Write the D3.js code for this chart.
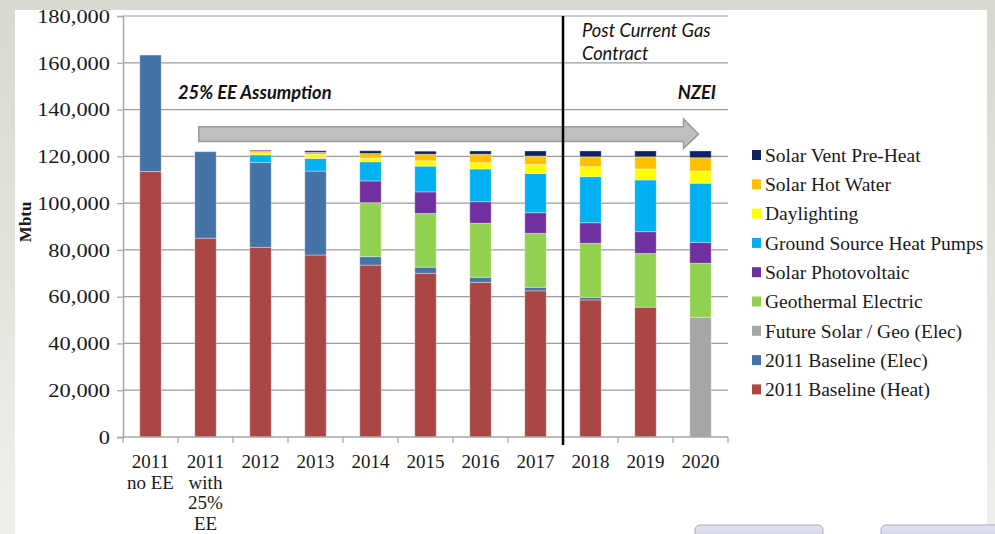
<!DOCTYPE html>
<html>
<head>
<meta charset="utf-8">
<script src="https://cdn.jsdelivr.net/npm/d3@7"></script>
<style>
  html, body { margin: 0; padding: 0; background: #fff; }
  svg { display: block; }
</style>
</head>
<body>
<svg id="chart" width="995" height="534"></svg>
<script>
// categories, multi-line labels split on "|"
const categories = ["2011|no EE", "2011|with|25%|EE", "2012", "2013", "2014", "2015", "2016", "2017", "2018", "2019", "2020"];

// Mbtu values
const baselineHeat = [113500, 85000, 81100, 77800, 73500, 70000, 66100, 62500, 58600, 55500, 0];
const baselineElec = [49800, 37000, 36300, 35900, 3600, 2600, 2200, 1500, 1100, 0, 0];
const futureSolarGeo = [0, 0, 0, 0, 0, 0, 0, 0, 0, 0, 51200];
const geothermal = [0, 0, 0, 0, 23100, 23000, 23100, 23100, 23100, 23000, 23100];
const solarPV = [0, 0, 0, 0, 9300, 9200, 9200, 8800, 8800, 9300, 8900];
const groundSource = [0, 0, 3200, 5400, 8200, 11000, 14000, 16800, 19700, 22100, 25300];
const daylighting = [0, 0, 900, 1700, 1500, 2300, 2700, 3900, 4300, 4700, 5200];
const solarHotWater = [0, 0, 900, 900, 2000, 2800, 3600, 3500, 4200, 5200, 5700];
const solarVent = [0, 0, 300, 700, 1200, 1300, 1400, 2200, 2500, 2500, 2900];

// stack order, bottom to top
const seriesNames = [
  "2011 Baseline (Heat)", "2011 Baseline (Elec)", "Future Solar / Geo (Elec)",
  "Geothermal Electric", "Solar Photovoltaic", "Ground Source Heat Pumps",
  "Daylighting", "Solar Hot Water", "Solar Vent Pre-Heat"
];
const seriesValues = [
  baselineHeat, baselineElec, futureSolarGeo, geothermal, solarPV,
  groundSource, daylighting, solarHotWater, solarVent
];

const yTicks = [0, 20000, 40000, 60000, 80000, 100000, 120000, 140000, 160000, 180000];

const color = d3.scaleOrdinal()
  .domain(seriesNames)
  .range(["#aa4643", "#4572a7", "#a6a6a6", "#92d050", "#7030a0", "#00b0f0", "#ffff00", "#ffc000", "#0f2360"]);

const svg = d3.select("#chart");
const width = 995;
const height = 534;
const margin = { top: 16, right: 267, bottom: 97, left: 123 };
const serif = "'Liberation Serif', 'Times New Roman', serif";
const sans = "Lato, 'Open Sans', sans-serif";

// slide background
const defs = svg.append("defs");
const frame = defs.append("linearGradient")
  .attr("id", "frame").attr("x1", 0).attr("y1", 0).attr("x2", 0).attr("y2", 1);
frame.append("stop").attr("offset", "0%").attr("stop-color", "#d6d9cf");
frame.append("stop").attr("offset", "100%").attr("stop-color", "#eef0ea");
svg.append("rect").attr("width", width).attr("height", height).attr("fill", "url(#frame)");
svg.append("rect").attr("x", 15).attr("y", 10).attr("width", 972).attr("height", height - 10).attr("fill", "#fff");

const btn = defs.append("linearGradient")
  .attr("id", "btn").attr("x1", 0).attr("y1", 0).attr("x2", 0).attr("y2", 1);
btn.append("stop").attr("offset", "0%").attr("stop-color", "#e4e4f0");
btn.append("stop").attr("offset", "100%").attr("stop-color", "#c4c6dc");
[[695, 128], [881, 130]].forEach(([bx, bw]) => {
  svg.append("rect")
    .attr("x", bx).attr("y", 525).attr("width", bw).attr("height", 20)
    .attr("rx", 5)
    .attr("fill", "url(#btn)")
    .attr("stroke", "#a9abc6");
});

const rows = categories.map((c, i) => {
  const row = { cat: c };
  seriesNames.forEach((s, j) => (row[s] = seriesValues[j][i]));
  return row;
});
const stacked = d3.stack().keys(seriesNames)(rows);

const x = d3.scaleBand()
  .domain(categories)
  .range([margin.left, width - margin.right])
  .padding(0);

const y = d3.scaleLinear()
  .domain([0, 180000])
  .range([height - margin.bottom, margin.top]);

const barW = x.bandwidth() * 0.39;
const barOff = (x.bandwidth() - barW) / 2;

// gridlines
svg.append("g")
  .selectAll("line")
  .data(yTicks.filter((d) => d > 0))
  .join("line")
  .attr("x1", margin.left)
  .attr("x2", width - margin.right)
  .attr("y1", (d) => y(d))
  .attr("y2", (d) => y(d))
  .attr("stroke", "#9b9b9b")
  .attr("stroke-width", 1.2);

// bars
svg.append("g")
  .selectAll("g")
  .data(stacked)
  .join("g")
  .attr("fill", (d) => color(d.key))
  .selectAll("rect")
  .data((d) => d.filter((p) => p[1] - p[0] > 0))
  .join("rect")
  .attr("x", (d) => x(d.data.cat) + barOff)
  .attr("y", (d) => y(d[1]))
  .attr("width", barW)
  .attr("height", (d) => y(d[0]) - y(d[1]))
  .attr("stroke", "rgba(255,255,255,0.35)")
  .attr("stroke-width", 1);

// y axis (labels drawn by hand so they can be stretched like the slide)
const yAxis = svg.append("g")
  .attr("transform", `translate(${margin.left},0)`)
  .call(d3.axisLeft(y).tickValues(yTicks).tickFormat("").tickSize(6));
yAxis.select(".domain").attr("stroke", "#a6a6a6").attr("stroke-width", 1.5);
yAxis.selectAll(".tick line").attr("stroke", "#a6a6a6").attr("stroke-width", 1.2);

svg.append("g")
  .selectAll("text")
  .data(yTicks)
  .join("text")
  .attr("transform", (d) => `translate(110,${y(d)}) scale(1.15,1)`)
  .attr("dy", "0.35em")
  .attr("text-anchor", "end")
  .attr("font-family", serif)
  .attr("font-size", 19.5)
  .attr("fill", "#1a1a1a")
  .text(d3.format(","));

// x axis
const xAxisY = height - margin.bottom;
svg.append("line")
  .attr("x1", margin.left).attr("x2", width - margin.right)
  .attr("y1", xAxisY).attr("y2", xAxisY)
  .attr("stroke", "#a6a6a6").attr("stroke-width", 1.5);
svg.append("g")
  .selectAll("line")
  .data(categories.concat([null]))
  .join("line")
  .attr("x1", (d, i) => margin.left + i * x.step())
  .attr("x2", (d, i) => margin.left + i * x.step())
  .attr("y1", xAxisY)
  .attr("y2", xAxisY + 6)
  .attr("stroke", "#a6a6a6")
  .attr("stroke-width", 1.2);

svg.append("g")
  .selectAll("text")
  .data(categories)
  .join("text")
  .attr("x", (d) => x(d) + x.bandwidth() / 2)
  .attr("y", xAxisY + 31)
  .attr("text-anchor", "middle")
  .attr("font-family", serif)
  .attr("font-size", 19)
  .attr("fill", "#1a1a1a")
  .selectAll("tspan")
  .data((d) => d.split("|"))
  .join("tspan")
  .attr("x", function () { return this.parentNode.getAttribute("x"); })
  .attr("dy", (d, i) => (i === 0 ? 0 : 20.5))
  .text((d) => d);

// axis title
svg.append("text")
  .attr("transform", `translate(31,${y(92000)}) rotate(-90)`)
  .attr("text-anchor", "middle")
  .attr("font-family", serif)
  .attr("font-size", 17)
  .attr("font-weight", "bold")
  .attr("fill", "#1a1a1a")
  .text("Mbtu");

// big grey arrow over the 25% EE years
const ax0 = x(categories[1]) + barOff + 4;
const ax1 = x(categories[10]) + x.bandwidth() / 2 - 2;
const head = 15;
const arrow = [
  [ax0, y(132700)], [ax1 - head, y(132700)], [ax1 - head, y(136000)],
  [ax1, y(129500)], [ax1 - head, y(123400)], [ax1 - head, y(126300)],
  [ax0, y(126300)]
];
svg.append("path")
  .attr("d", d3.line()(arrow) + "Z")
  .attr("fill", "#bfbfbf")
  .attr("stroke", "#9a9a9a")
  .attr("stroke-width", 1.5);

// gas contract divider
const divX = x(categories[8]);
svg.append("line")
  .attr("x1", divX).attr("x2", divX)
  .attr("y1", y(180000)).attr("y2", xAxisY + 8)
  .attr("stroke", "#000")
  .attr("stroke-width", 2.5);

// annotations
svg.append("text")
  .attr("x", 178).attr("y", y(144500))
  .attr("font-family", sans).attr("font-size", 18.3)
  .attr("font-weight", "bold").attr("font-style", "italic")
  .attr("fill", "#111")
  .text("25% EE Assumption");

svg.append("text")
  .attr("x", 716).attr("y", y(144500))
  .attr("text-anchor", "end")
  .attr("font-family", sans).attr("font-size", 18.3)
  .attr("font-weight", "bold").attr("font-style", "italic")
  .attr("fill", "#111")
  .text("NZEI");

svg.append("text")
  .attr("x", divX + 19).attr("y", 37)
  .attr("font-family", sans).attr("font-size", 18.3)
  .attr("font-style", "italic")
  .attr("fill", "#111")
  .selectAll("tspan")
  .data(["Post Current Gas", "Contract"])
  .join("tspan")
  .attr("x", divX + 19)
  .attr("dy", (d, i) => (i === 0 ? 0 : 23))
  .text((d) => d);

// legend, top entry first
const legend = svg.append("g")
  .selectAll("g")
  .data(seriesNames.slice().reverse())
  .join("g")
  .attr("transform", (d, i) => `translate(752,${155 + i * 29.3})`);
legend.append("rect")
  .attr("x", 0).attr("y", -5)
  .attr("width", 9).attr("height", 10)
  .attr("fill", (d) => color(d));
legend.append("text")
  .attr("x", 13).attr("dy", "0.35em")
  .attr("font-family", serif)
  .attr("font-size", 19.5)
  .attr("fill", "#1a1a1a")
  .text((d) => d);
</script>
</body>
</html>
